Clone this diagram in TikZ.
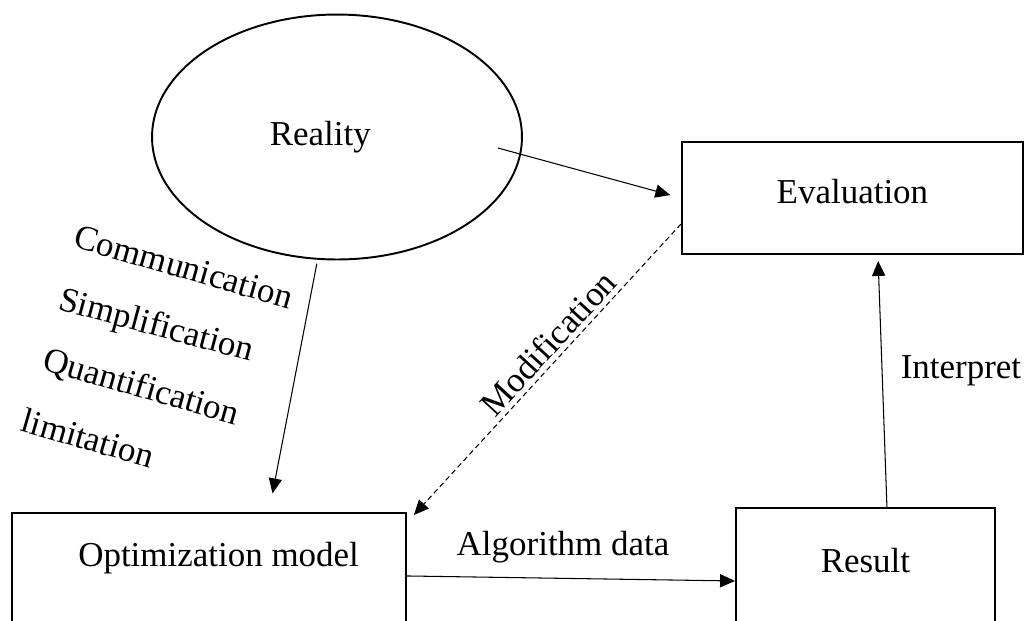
\documentclass[tikz,border=0pt]{standalone}
\usepackage{fontspec}
\setmainfont{Liberation Serif}
\usepackage{tikz}
\usetikzlibrary{positioning,shapes.geometric,arrows.meta,calc}
\tikzset{
    block/.style={rectangle, draw, line width=1.1pt, inner sep=0pt, anchor=north west, align=center},
    world/.style={ellipse, draw, line width=1.1pt, inner sep=0pt, minimum width=7.4cm, minimum height=4.9cm},
    arrow/.style={-{Triangle[length=8.5pt,width=7.5pt]}, line width=0.6pt},
    feedback/.style={arrow, dash pattern=on 3pt off 2pt},
    tag/.style={inner sep=0pt, rotate=-16}
}

\begin{document}
\begin{tikzpicture}[x=0.02cm, y=-0.02cm, every node/.style={font=\fontsize{19.9}{24}\selectfont}]

\clip (0,0) rectangle (1031,620);

% ── Reality ──
\node[world] (reality) at (337,137) {Reality\hspace*{19pt}};

% ── Evaluation ──
\node[block, minimum width=6.82cm, text height=35.3pt, text depth=28.5pt] (evaluation) at (681,141) {Evaluation};

% ── Optimization model ──
\node[block, minimum width=7.88cm, text height=30.2pt, text depth=41.5pt] (optmodel) at (11,512) {\hspace*{11pt}Optimization model};

% ── Result ──
\node[block, minimum width=5.18cm, text height=37pt, text depth=46.1pt] (result) at (735,507) {Result};

% ── Steps of modelling ──
\node[tag] (comm) at (184,267) {Communication};
\node[tag, rotate=1] (simpl) at (156,327) {Simplification};
\node[tag] (quant) at (141,388) {Quantification};
\node[tag] (limit) at (88,438) {limitation};

% ── Relationships ──
\draw[arrow, shorten <=2.3pt, shorten >=10.8pt] (reality.261) -- ([xshift=1.2cm]optmodel.north);
\draw[arrow, shorten >=6.3pt] ([shift={(3.22cm,-0.22cm)}]reality.center) -- (evaluation.west);
\draw[feedback] ([yshift=-0.52cm]evaluation.west) -- node[sloped, above, pos=0.45, inner sep=2.5pt] (modlbl) {Modification} ([xshift=0.14cm,yshift=-0.06cm]optmodel.north east);
\draw[arrow] (optmodel.east) -- node[above=5pt, pos=0.476] (algolbl) {Algorithm data} (result.west);
\draw[arrow, shorten >=3.4pt] ([xshift=0.43cm]result.north) -- node[right=7pt, pos=0.54] (interlbl) {Interpret} ([xshift=0.51cm]evaluation.south);

\end{tikzpicture}
\end{document}
